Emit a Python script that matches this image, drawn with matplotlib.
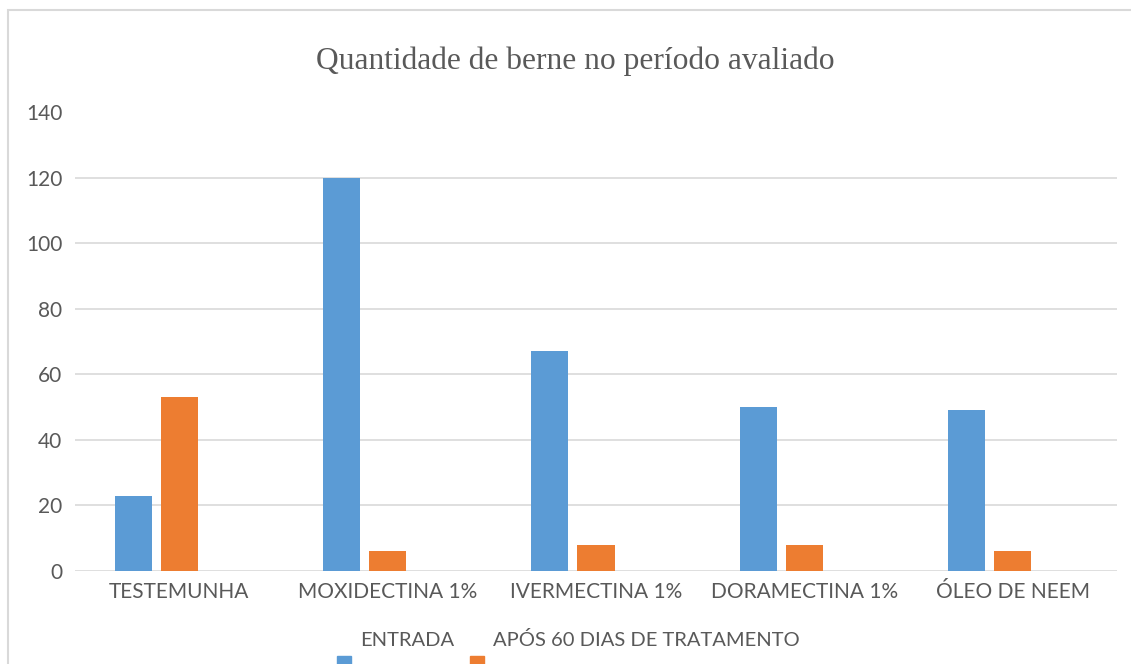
import matplotlib.pyplot as plt
from matplotlib.patches import Rectangle

# Dados do gráfico
categorias = ["TESTEMUNHA", "MOXIDECTINA 1%", "IVERMECTINA 1%",
              "DORAMECTINA 1%", "ÓLEO DE NEEM"]
entrada = [23, 120, 67, 50, 49]
apos_60 = [53, 6, 8, 8, 6]
series = ["ENTRADA", "APÓS 60 DIAS DE TRATAMENTO"]
yticks = [0, 20, 40, 60, 80, 100, 120, 140]

AZUL = "#5B9BD5"
LARANJA = "#ED7D31"
CINZA = "#595959"
GRADE = "#D9D9D9"
FONTE = "Lato"

W, H = 1131, 664
fig = plt.figure(figsize=(W / 100, H / 100), dpi=100)

# moldura do gráfico (estilo Excel)
fig.patches.append(Rectangle((8 / W, -0.1), 1.2, 1.1 - 10 / H,
                             transform=fig.transFigure, fill=False,
                             edgecolor=GRADE, linewidth=1.5))

ax = fig.add_axes([75 / W, (H - 571) / H, (1117 - 75) / W, (571 - 112) / H])

x = range(len(categorias))
larg = 0.178
desl = 0.221
ax.bar([i - desl for i in x], entrada, width=larg, color=AZUL, zorder=3)
ax.bar([i for i in x], apos_60, width=larg, color=LARANJA, zorder=3)

ax.set_xlim(-0.5, len(categorias) - 0.5)
ax.set_ylim(0, 140)
ax.set_yticks(yticks)
ax.set_xticks(list(x))
ax.set_xticklabels(categorias)

for y in yticks[:-1]:
    ax.axhline(y, color=GRADE, linewidth=1.2, zorder=1)

for s in ax.spines.values():
    s.set_visible(False)
ax.tick_params(length=0, colors=CINZA, labelsize=15)
ax.tick_params(axis="y", pad=9)
ax.tick_params(axis="x", pad=8)
for lab in ax.get_xticklabels() + ax.get_yticklabels():
    lab.set_fontfamily(FONTE)

fig.text(575 / W, 1 - 61 / H, "Quantidade de berne no período avaliado",
         ha="center", va="center", fontsize=22.7, color=CINZA,
         family="Liberation Serif")

# legenda manual abaixo do gráfico
fig.patches.append(Rectangle((337 / W, 1 - 665 / H), 14 / W, 9 / H,
                             transform=fig.transFigure, color=AZUL))
fig.patches.append(Rectangle((470 / W, 1 - 665 / H), 14 / W, 9 / H,
                             transform=fig.transFigure, color=LARANJA))
fig.text(360 / W, 1 - 646 / H, series[0], ha="left", va="baseline",
         fontsize=14.5, color=CINZA, family=FONTE)
fig.text(493 / W, 1 - 646 / H, series[1], ha="left", va="baseline",
         fontsize=14.5, color=CINZA, family=FONTE)

fig.savefig("out.png", dpi=100)
